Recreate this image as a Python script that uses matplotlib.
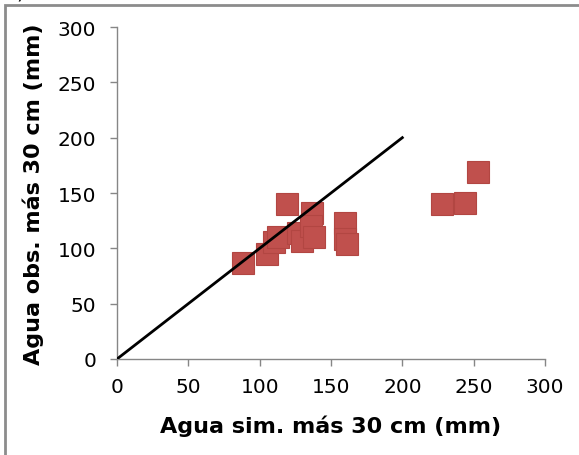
import matplotlib
matplotlib.use("Agg")
import matplotlib.pyplot as plt
from matplotlib.patches import Rectangle

plt.rcParams['font.family'] = ['DejaVu Sans']

sim = [88, 105, 110, 113, 119, 127, 130, 137, 136, 138, 160, 160, 161, 228, 244, 253]
obs = [87, 95, 106, 110, 140, 114, 107, 132, 120, 110, 123, 108, 104, 140, 141, 169]
line_x = [0, 200]
line_y = [0, 200]
xticks = [0, 50, 100, 150, 200, 250, 300]
yticks = [0, 50, 100, 150, 200, 250, 300]

fig = plt.figure(figsize=(5.79, 4.56), dpi=100)
ax = fig.add_axes([117/579, 1-360/456, (545-117)/579, (360-28)/456])

ax.plot(sim, obs, linestyle='none', marker='s', markersize=15.5,
        markerfacecolor='#C0504D', markeredgecolor='#B24642', markeredgewidth=0.8, zorder=2)
ax.plot(line_x, line_y, color='black', linewidth=2, zorder=3)

ax.set_xlim(0, 300)
ax.set_ylim(0, 300)
ax.set_xticks(xticks)
ax.set_yticks(yticks)
ax.tick_params(axis='both', labelsize=14.5, color='#868686', length=5, width=1)
ax.tick_params(axis='y', pad=10)
ax.tick_params(axis='x', pad=8)
for s in ['top', 'right']:
    ax.spines[s].set_visible(False)
for s in ['left', 'bottom']:
    ax.spines[s].set_color('#868686')
    ax.spines[s].set_linewidth(1)

ax.set_xlabel('Agua sim. más 30 cm (mm)', fontsize=16, fontweight='bold', labelpad=13)
ax.set_ylabel('Agua obs. más 30 cm (mm)', fontsize=16, fontweight='bold', labelpad=10)

fig.patches.append(Rectangle((5/579, -0.1), 1.2, 1 - 6/456 + 0.1, transform=fig.transFigure,
                             fill=False, edgecolor='#8C8C8C', linewidth=2, figure=fig))
fig.text(16/579, 1.0 + 2/456, ')', fontsize=14, va='baseline', ha='left')

fig.savefig('out.png', dpi=100)
